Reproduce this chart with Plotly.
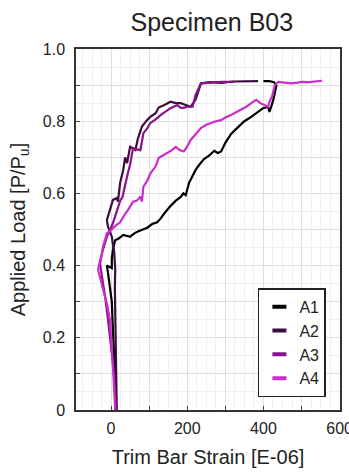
import plotly.graph_objects as go

# ---- data ----
a1_x = [12, 11, 10, 8, 5, 2, -8, -11, 2, 2, 6, 11, 20, 32, 50, 62, 72, 85, 95, 108, 121, 130, 140, 156, 170,
        183, 190, 196, 205, 210, 222, 232, 244, 258, 271, 280, 289, 300, 315, 330, 350, 368, 386, 399, 412,
        416, 426, 434, 428, 415, 400]
a1_y = [0, 0.05, 0.1, 0.15, 0.22, 0.3, 0.38, 0.40, 0.393, 0.42, 0.45, 0.47, 0.475, 0.485, 0.48, 0.49, 0.495,
        0.50, 0.505, 0.515, 0.52, 0.53, 0.545, 0.565, 0.58, 0.59, 0.60, 0.595, 0.63, 0.64, 0.665, 0.68, 0.695,
        0.705, 0.718, 0.712, 0.716, 0.74, 0.765, 0.78, 0.80, 0.812, 0.826, 0.836, 0.84, 0.826, 0.859, 0.898,
        0.908, 0.911, 0.911]

a2_x = [15, 14, 13, 12, 11, 10, 11, 8, 2, -8, -11, -3, 5, 15, 18, 24, 32, 37, 42, 50, 55, 64, 70, 77, 81, 92,
        103, 117, 125, 140, 156, 170, 183, 196, 209, 222, 236, 260, 290, 320, 350, 386]
a2_y = [0, 0.06, 0.12, 0.2, 0.28, 0.34, 0.39, 0.44, 0.48, 0.508, 0.526, 0.554, 0.582, 0.587, 0.577, 0.63, 0.665,
        0.70, 0.684, 0.729, 0.726, 0.72, 0.75, 0.776, 0.785, 0.80, 0.812, 0.822, 0.838, 0.845, 0.854, 0.85, 0.85,
        0.845, 0.84, 0.86, 0.905, 0.908, 0.906, 0.91, 0.91, 0.911]

a3_x = [12, 10, 6, 0, -8, -15, -22, -29, -25, -18, -11, -2, 5, 15, 24, 30, 37, 45, 50, 58, 68, 77, 85, 95, 103,
        117, 130, 143, 156, 174, 183, 191, 200, 214, 222, 236, 260, 290, 323]
a3_y = [0, 0.06, 0.12, 0.18, 0.25, 0.31, 0.36, 0.405, 0.43, 0.455, 0.48, 0.50, 0.518, 0.55, 0.58, 0.59, 0.625,
        0.66, 0.68, 0.726, 0.722, 0.72, 0.767, 0.78, 0.795, 0.805, 0.817, 0.826, 0.836, 0.845, 0.837, 0.837,
        0.84, 0.84, 0.873, 0.905, 0.907, 0.909, 0.909]

a4_x = [11, 9, 5, 0, -3, -10, -16, -24, -29, -34, -30, -25, -21, -16, -11, -3, 5, 11, 24, 32, 45, 58, 68, 77, 81,
        85, 95, 103, 117, 125, 136, 148, 160, 170, 180, 191, 200, 209, 222, 236, 250, 262, 275, 289, 300, 315,
        330, 342, 355, 368, 381, 392, 403, 412, 416, 423, 430, 439, 455, 474, 490, 501, 520, 540, 554]
a4_y = [0, 0.05, 0.12, 0.2, 0.25, 0.29, 0.314, 0.345, 0.369, 0.388, 0.41, 0.425, 0.452, 0.47, 0.49, 0.495,
        0.505, 0.51, 0.52, 0.535, 0.555, 0.577, 0.58, 0.591, 0.577, 0.619, 0.635, 0.655, 0.675, 0.698, 0.705,
        0.712, 0.72, 0.729, 0.72, 0.716, 0.73, 0.748, 0.765, 0.781, 0.79, 0.795, 0.80, 0.803, 0.81, 0.817,
        0.825, 0.831, 0.84, 0.85, 0.859, 0.85, 0.845, 0.84, 0.854, 0.87, 0.900, 0.909, 0.907, 0.905, 0.907,
        0.909, 0.908, 0.91, 0.912]

names = ["A1", "A2", "A3", "A4"]
colors = ["#000000", "#3e0c3e", "#8a128a", "#cc2ccc"]

x_tickvals = [-100, 0, 100, 200, 300, 400, 500, 600]
x_ticktext = ["", "0", "", "200", "", "400", "", "600"]
y_tickvals = [0, 0.1, 0.2, 0.3, 0.4, 0.5, 0.6, 0.7, 0.8, 0.9, 1.0]
y_ticktext = ["0", "", "0.2", "", "0.4", "", "0.6", "", "0.8", "", "1.0"]

series = [(a1_x, a1_y), (a2_x, a2_y), (a3_x, a3_y), (a4_x, a4_y)]

fig = go.Figure()
for (xs, ys), c, n in zip(series, colors, names):
    fig.add_trace(go.Scatter(x=xs, y=ys, mode="lines", name=n, showlegend=False,
                             line=dict(color=c, width=2.2)))
for c, n in zip(colors, names):
    fig.add_trace(go.Scatter(x=[None], y=[None], mode="markers", name=n,
                             marker=dict(symbol="line-ew", size=10, line=dict(color=c, width=4))))

font_family = "Liberation Sans, Arial, sans-serif"
txt = "#222222"
fig.update_layout(
    width=349, height=472,
    margin=dict(l=76, r=9, t=49, b=62),
    paper_bgcolor="white", plot_bgcolor="white",
    font=dict(family=font_family, color=txt, size=16),
    title=dict(text="Specimen B03", x=0.607, xanchor="center", y=0.953, yanchor="middle",
               xref="container", yref="container", font=dict(size=25, color=txt)),
    showlegend=True,
    legend=dict(x=0.689, y=0.035, xanchor="left", yanchor="bottom",
                bordercolor="#222222", borderwidth=1.5, bgcolor="white",
                font=dict(size=16, color=txt), tracegroupgap=0, itemwidth=30),
)
fig.update_xaxes(
    range=[-92, 601], tickvals=x_tickvals, ticktext=x_ticktext, automargin=False,
    ticks="inside", ticklen=4, tickcolor="#444444", ticklabelstandoff=3,
    ticklabeloverflow="allow",
    tickfont=dict(size=16, color=txt),
    showline=True, linecolor="#333333", linewidth=1.5, mirror=True,
    showgrid=True, gridcolor="#dedede", gridwidth=1, zeroline=False,
    minor=dict(dtick=25, tick0=0, showgrid=True, gridcolor="#f0f0f0", gridwidth=1),
    title=dict(text="Trim Bar Strain [E-06]", font=dict(size=20, color=txt), standoff=14),
)
fig.update_yaxes(
    range=[0, 1.0], tickvals=y_tickvals, ticktext=y_ticktext, automargin=False,
    ticks="inside", ticklen=4, tickcolor="#444444", ticklabelstandoff=6,
    tickfont=dict(size=16, color=txt),
    showline=True, linecolor="#333333", linewidth=1.5, mirror=True,
    showgrid=True, gridcolor="#dedede", gridwidth=1, zeroline=False,
    minor=dict(dtick=0.05, tick0=0, showgrid=True, gridcolor="#f0f0f0", gridwidth=1),
    title=dict(text="Applied Load [P/P<sub>u</sub>]", font=dict(size=20, color=txt), standoff=12),
)

fig.write_html("out.html", config={"displayModeBar": False},
               post_script="document.body.style.margin='0';document.body.style.padding='0';")
